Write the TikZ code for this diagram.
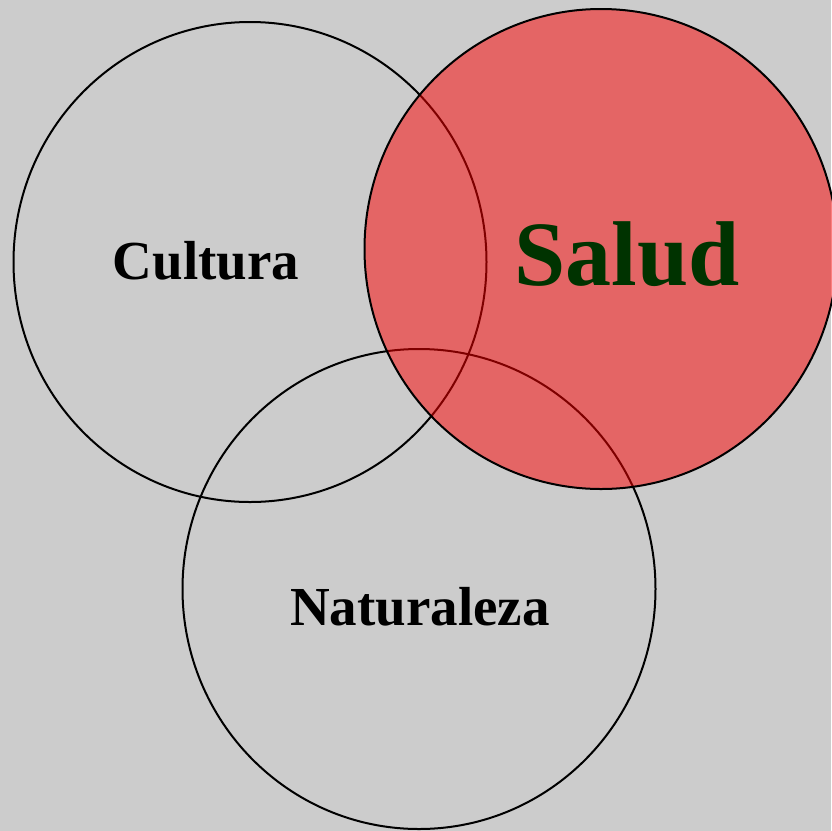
\documentclass[tikz,border=0pt]{standalone}
\usepackage{fontspec}
\setmainfont{Liberation Serif}
\usetikzlibrary{shapes.geometric}
\definecolor{bggray}{HTML}{CCCCCC}
\definecolor{saludred}{HTML}{FC0000}
\definecolor{saludgreen}{HTML}{003300}
\begin{document}
\begin{tikzpicture}[x=1pt,y=-1pt,
        ring/.style={ellipse,draw,line width=2pt,inner sep=0pt,minimum width=473pt,minimum height=480pt},
        word/.style={font=\bfseries\fontsize{55}{60}\selectfont,anchor=base}]
    \fill[bggray] (0,0) rectangle (831,831);
    \useasboundingbox (0,0) rectangle (831,831);
    \node[ring] (cultura) at (250,262) {};
    \node[ring] (naturaleza) at (419,589) {};
    \node[ring,fill=saludred,fill opacity=0.5,draw opacity=1] (salud) at (601,249) {};
    \begin{scope}[every node/.style={word}]
        \node (culturatext) at (206,279) {Cultura};
        \node (naturalezatext) at (420,625) {Naturaleza};
        \node[font=\bfseries\fontsize{92}{100}\selectfont,text=saludgreen] (saludtext) at (627,285) {Salud};
    \end{scope}
\end{tikzpicture}
\end{document}
